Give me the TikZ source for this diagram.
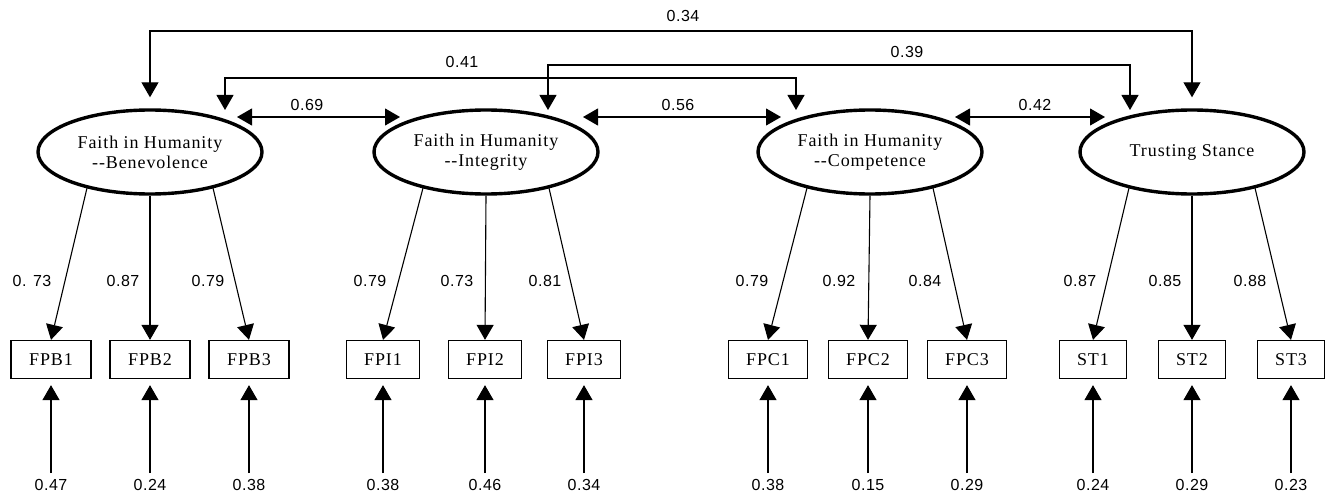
\documentclass[tikz,border=0pt]{standalone}
\usepackage{fontspec}
\usetikzlibrary{arrows.meta,calc,shapes.geometric}
\newfontfamily\serfont{Liberation Serif}[LetterSpace=5]
\newfontfamily\labfont{Liberation Sans}[LetterSpace=3]
\begin{document}
\begin{tikzpicture}[x=1pt,y=-1pt,
 lat/.style={draw, ellipse, line width=3.4pt, minimum width=224pt, minimum height=84pt, inner sep=0pt, align=center, font=\serfont\fontsize{18}{20}\selectfont},
 obs/.style={draw, line width=1.3pt, minimum height=38pt, inner sep=0pt, font=\serfont\fontsize{18}{20}\selectfont},
 lab/.style={inner sep=1pt, font=\labfont\fontsize{16}{18}\selectfont},
 tip/.tip={Triangle[length=15pt,width=17pt]},
 arr/.style={line width=1.1pt, -tip},
 darr/.style={line width=1.1pt, tip-tip},
]
\useasboundingbox (0,0) rectangle (1326,495);

% latent variables
\node[lat] (B) at (150,152) {Faith in Humanity\\-{}-Benevolence};
\node[lat] (I) at (486,152) {Faith in Humanity\\-{}-Integrity};
\node[lat] (C) at (870,152) {Faith in Humanity\\-{}-Competence};
\node[lat] (T) at (1192,152) {Trusting Stance};

% indicators
\node[obs, minimum width=80pt] (FPB1) at (51,359.5) {FPB1};
\node[obs, minimum width=80pt] (FPB2) at (150,359.5) {FPB2};
\node[obs, minimum width=80pt] (FPB3) at (249,359.5) {FPB3};
\node[obs, minimum width=73pt] (FPI1) at (383,359.5) {FPI1};
\node[obs, minimum width=73pt] (FPI2) at (485,359.5) {FPI2};
\node[obs, minimum width=73pt] (FPI3) at (584,359.5) {FPI3};
\node[obs, minimum width=79pt] (FPC1) at (768,359.5) {FPC1};
\node[obs, minimum width=79pt] (FPC2) at (868,359.5) {FPC2};
\node[obs, minimum width=79pt] (FPC3) at (967,359.5) {FPC3};
\node[obs, minimum width=67pt] (ST1) at (1093,359.5) {ST1};
\node[obs, minimum width=67pt] (ST2) at (1192,359.5) {ST2};
\node[obs, minimum width=67pt] (ST3) at (1291,359.5) {ST3};

% loadings
\foreach \L/\a/\b/\c in {B/FPB1/FPB2/FPB3, I/FPI1/FPI2/FPI3, C/FPC1/FPC2/FPC3, T/ST1/ST2/ST3}{
  \draw[arr] ($(\L.center)+(-63,36)$) -- (\a.north);
  \draw[arr] (\L.south) -- (\b.north);
  \draw[arr] ($(\L.center)+(63,36)$) -- (\c.north);
}
\node[lab] (l1) at (32,281) {0. 73};
\node[lab] (l2) at (123,281) {0.87};
\node[lab] (l3) at (208,281) {0.79};
\node[lab] (l4) at (370,281) {0.79};
\node[lab] (l5) at (457,281) {0.73};
\node[lab] (l6) at (545,281) {0.81};
\node[lab] (l7) at (752,281) {0.79};
\node[lab] (l8) at (839,281) {0.92};
\node[lab] (l9) at (925,281) {0.84};
\node[lab] (l10) at (1080,281) {0.87};
\node[lab] (l11) at (1165,281) {0.85};
\node[lab] (l12) at (1250,281) {0.88};

% error terms
\foreach \n/\v in {FPB1/0.47, FPB2/0.24, FPB3/0.38, FPI1/0.38, FPI2/0.46, FPI3/0.34, FPC1/0.38, FPC2/0.15, FPC3/0.29, ST1/0.24, ST2/0.29, ST3/0.23}{
  \node[lab] (e\n) at (\n.center |- 0,485) {\v};
  \draw[arr, shorten <=5pt, shorten >=6pt] (e\n.north) -- (\n.south);
}

% correlations
\coordinate (b34) at ($(B.north)+(0,-11)$);
\coordinate (t34) at ($(T.north)+(0,-11)$);
\coordinate (k34) at (0,31);
\draw[darr] (b34) -- (b34 |- k34) -- (t34 |- k34) -- (t34);
\node[lab] (n34) at (683,16) {0.34};

\coordinate (b41) at ($(B.center)+(75,-42)$);
\coordinate (c41) at ($(C.center)+(-74,-42)$);
\coordinate (k41) at (0,78);
\draw[darr] (b41) -- (b41 |- k41) -- (c41 |- k41) -- (c41);
\node[lab] (n41) at (462,62) {0.41};

\coordinate (i39) at ($(I.center)+(62,-42)$);
\coordinate (t39) at ($(T.center)+(-62,-42)$);
\coordinate (k39) at (0,65);
\draw[darr] (i39) -- (i39 |- k39) -- (t39 |- k39) -- (t39);
\node[lab] (n39) at (907,52) {0.39};

\coordinate (b69) at ($(B.center)+(87,-35)$);
\coordinate (i69) at ($(I.center)+(-86,-35)$);
\draw[darr] (b69) -- (i69);
\node[lab] (n69) at (307,105) {0.69};

\coordinate (i56) at ($(I.center)+(97,-35)$);
\coordinate (c56) at ($(C.center)+(-89,-35)$);
\draw[darr] (i56) -- (c56);
\node[lab] (n56) at (678,105) {0.56};

\coordinate (c42) at ($(C.center)+(85,-35)$);
\coordinate (t42) at ($(T.center)+(-87,-35)$);
\draw[darr] (c42) -- (t42);
\node[lab] (n42) at (1035,105) {0.42};
\end{tikzpicture}
\end{document}
